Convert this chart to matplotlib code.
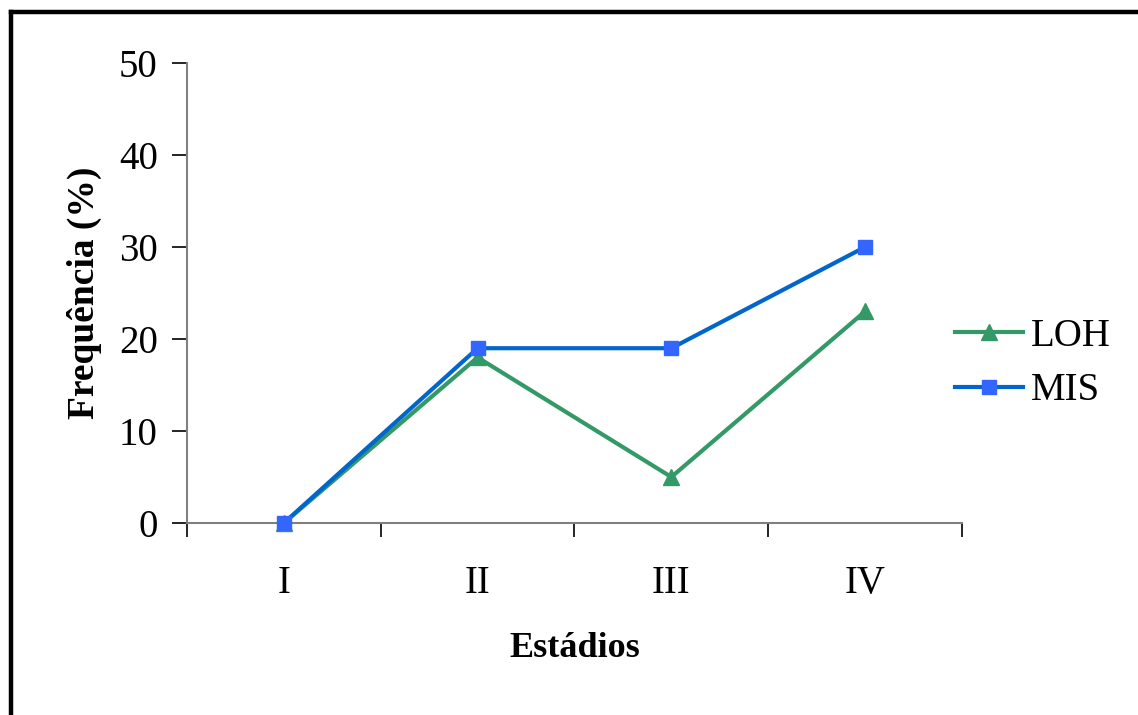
import matplotlib.pyplot as plt
from matplotlib.lines import Line2D


# dados (frequência em %)
ESTADIOS = ["I", "II", "III", "IV"]
LOH = [0, 18, 5, 23]
MIS = [0, 19, 19, 30]

Y_TICKS = [0, 10, 20, 30, 40, 50]

GREEN = "#339966"
BLUE_LINE = "#0066CC"
BLUE_MARKER = "#3366FF"
AXIS_GRAY = "#808080"


def main() -> None:
    plt.rcParams["font.family"] = ["Liberation Serif", "DejaVu Serif"]

    fig = plt.figure(figsize=(11.38, 7.15), dpi=100)
    ax = fig.add_axes([0.1643, 0.2685, 0.681, 0.6434])

    x = list(range(len(ESTADIOS)))

    ax.plot(
        x, LOH,
        color=GREEN, linewidth=3.0,
        marker="^", markersize=11, markerfacecolor=GREEN, markeredgecolor=GREEN,
        label="LOH", clip_on=False, zorder=3,
    )
    ax.plot(
        x, MIS,
        color=BLUE_LINE, linewidth=3.0,
        marker="s", markersize=9.5, markerfacecolor=BLUE_MARKER, markeredgecolor=BLUE_MARKER,
        label="MIS", clip_on=False, zorder=4,
    )

    ax.set_xlim(-0.5, len(ESTADIOS) - 0.5)
    ax.set_ylim(0, 50)
    ax.set_yticks(Y_TICKS)

    # ticks do eixo x nas fronteiras das categorias, rótulos no centro
    ax.set_xticks([i - 0.5 for i in range(len(ESTADIOS) + 1)])
    ax.set_xticklabels([])
    ax.set_xticks(x, minor=True)
    ax.set_xticklabels(ESTADIOS, minor=True, fontsize=28)
    ax.tick_params(axis="x", which="minor", length=0, pad=30)
    ax.tick_params(axis="x", which="major", length=10, width=1.2, color="black", direction="out")
    ax.tick_params(axis="y", length=11, width=1.2, color="black", labelsize=28, pad=10)

    for side in ["top", "right"]:
        ax.spines[side].set_visible(False)
    for side in ["left", "bottom"]:
        ax.spines[side].set_color(AXIS_GRAY)
        ax.spines[side].set_linewidth(1.5)

    ax.set_xlabel("Estádios", fontsize=26, fontweight="bold", labelpad=22)
    ax.set_ylabel("Frequência (%)", fontsize=27, fontweight="bold", labelpad=12)

    ax.legend(
        loc="center left", bbox_to_anchor=(0.991, 0.347),
        frameon=False, fontsize=28, handlelength=1.75,
        handletextpad=0.2, labelspacing=0.45,
        borderpad=0, borderaxespad=0,
    )

    # moldura da área do gráfico (só esquerda e topo visíveis)
    fig.add_artist(Line2D([0.0097, 0.0097], [0.0, 0.9839], transform=fig.transFigure,
                          color="black", linewidth=3.2))
    fig.add_artist(Line2D([0.0097, 1.0], [0.9839, 0.9839], transform=fig.transFigure,
                          color="black", linewidth=3.2))

    fig.savefig("out.png", dpi=100)
    plt.close(fig)


if __name__ == "__main__":
    main()
